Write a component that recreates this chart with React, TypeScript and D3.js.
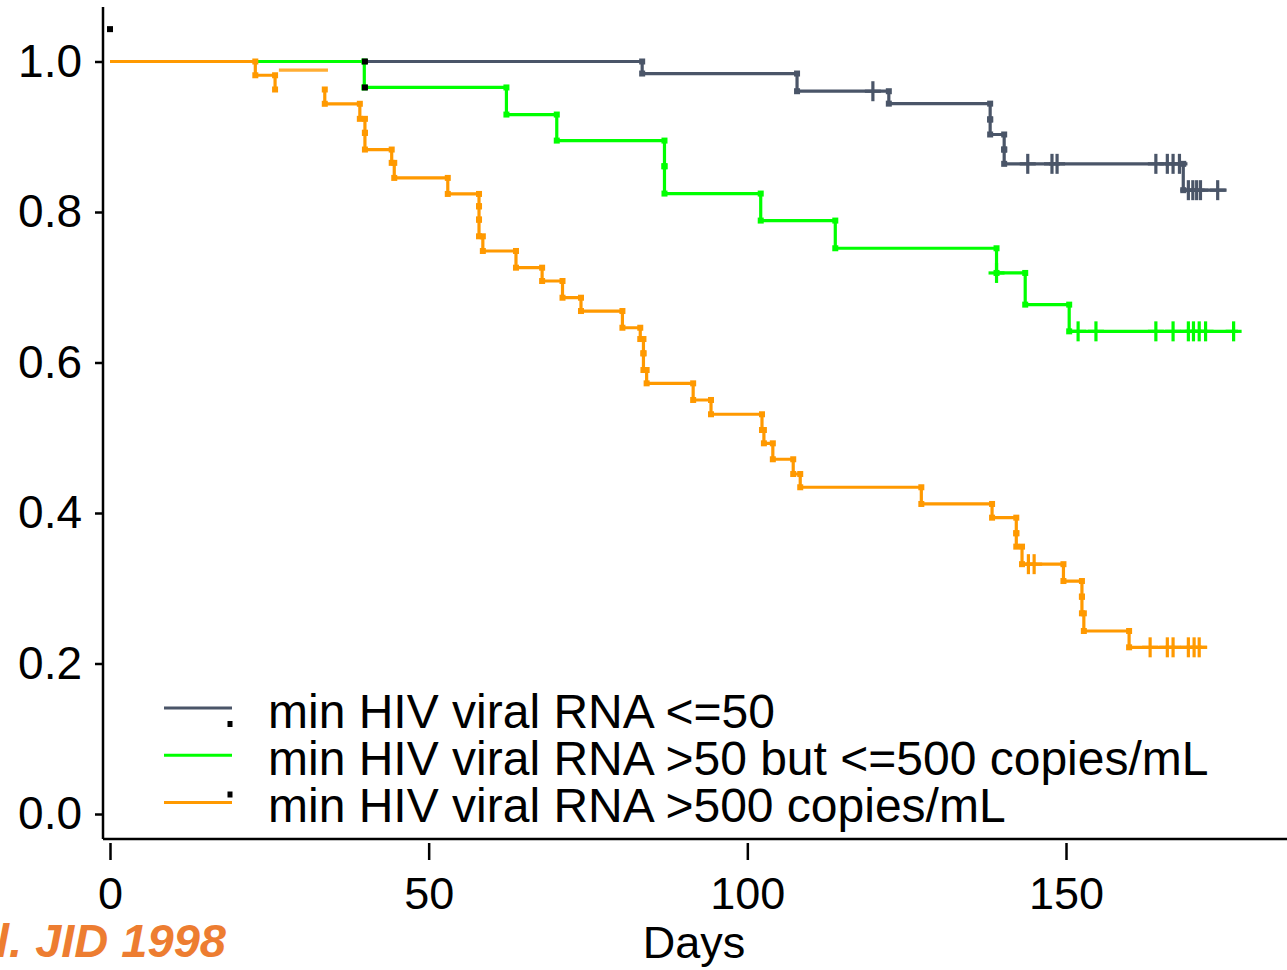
import * as d3 from "d3";
import { useEffect, useRef } from "react";

// Kaplan-Meier style steps: time (days) and survival after the drop
const grayEvents = [
  { t: 83.5, s: 0.984 }, { t: 107.8, s: 0.9605 }, { t: 122.2, s: 0.944 },
  { t: 138.1, s: 0.923 }, { t: 138.1, s: 0.903 }, { t: 140.3, s: 0.883 },
  { t: 140.3, s: 0.864 }, { t: 168.4, s: 0.829 },
];
const grayCensors = [119.7, 144.0, 147.8, 148.6, 164.1, 165.9, 166.8, 167.8, 169.2, 169.9, 170.5, 171.1, 173.8];
const grayEnd = 175.2;

const greenEvents = [
  { t: 39.9, s: 0.9655 }, { t: 62.2, s: 0.9295 }, { t: 70.1, s: 0.8949 },
  { t: 87.0, s: 0.8608 }, { t: 87.0, s: 0.8245 }, { t: 102.1, s: 0.7886 },
  { t: 113.8, s: 0.7518 }, { t: 139.1, s: 0.719 }, { t: 143.6, s: 0.6769 },
  { t: 150.5, s: 0.6414 },
];
const greenCensors = [139.1, 151.9, 154.7, 164.1, 166.8, 169.2, 170.0, 170.9, 171.9, 176.3];
const greenEnd = 177.0;

const orangeEvents = [
  { t: 22.8, s: 0.9817 }, { t: 25.9, s: 0.9628 }, { t: 33.7, s: 0.9438 },
  { t: 39.2, s: 0.9238 }, { t: 40.0, s: 0.9052 }, { t: 40.0, s: 0.883 },
  { t: 44.2, s: 0.8653 }, { t: 44.6, s: 0.8453 }, { t: 53.0, s: 0.824 },
  { t: 57.9, s: 0.8076 }, { t: 57.9, s: 0.7899 }, { t: 57.9, s: 0.7677 },
  { t: 58.5, s: 0.7482 }, { t: 63.7, s: 0.726 }, { t: 67.8, s: 0.7083 },
  { t: 71.0, s: 0.6861 }, { t: 73.9, s: 0.6684 }, { t: 80.4, s: 0.6462 },
  { t: 83.2, s: 0.6312 }, { t: 83.7, s: 0.6122 }, { t: 83.7, s: 0.59 },
  { t: 84.2, s: 0.5723 }, { t: 91.5, s: 0.5502 }, { t: 94.3, s: 0.5312 },
  { t: 102.3, s: 0.5103 }, { t: 102.6, s: 0.4926 }, { t: 104.0, s: 0.4714 },
  { t: 107.2, s: 0.4518 }, { t: 108.3, s: 0.4342 }, { t: 127.3, s: 0.412 },
  { t: 138.4, s: 0.3938 }, { t: 142.2, s: 0.3731 }, { t: 142.2, s: 0.3553 },
  { t: 143.1, s: 0.332 }, { t: 149.6, s: 0.3096 }, { t: 152.5, s: 0.2888 },
  { t: 152.5, s: 0.2667 }, { t: 152.8, s: 0.2432 }, { t: 159.9, s: 0.2215 },
];
const orangeCensors = [144.1, 145.0, 163.2, 165.9, 166.8, 169.2, 170.1, 170.9];
const orangeEnd = 172.1;
// the horizontal piece between these two drops is drawn displaced in the original
const orangeGap = { from: 25.9, to: 33.7 };
const orangeStray = [{ t: 26.5, s: 0.9886 }, { t: 34.2, s: 0.9886 }];

// stray black marks in the source picture
const blackMarks = [{ t: 0, s: 1.043 }, { t: 40, s: 1.0 }, { t: 40, s: 0.9655 }];

const legendLabels = [
  "min HIV viral RNA <=50",
  "min HIV viral RNA >50 but <=500 copies/mL",
  "min HIV viral RNA >500 copies/mL",
];
const colors = ["#4a5568", "#00ff00", "#ff9900"];

const xTicks = [0, 50, 100, 150];
const yTicks = [0, 0.2, 0.4, 0.6, 0.8, 1.0];

const FONT = "'Liberation Sans', Arial, sans-serif";

function stepPoints(events, end, gap?) {
  const pts: any[] = [{ t: 0, s: 1 }];
  let s = 1;
  let lastT = 0;
  events.forEach((e) => {
    if (gap && lastT === gap.from && e.t === gap.to) pts.push({ gap: true });
    pts.push({ t: e.t, s });
    pts.push({ t: e.t, s: e.s });
    s = e.s;
    lastT = e.t;
  });
  pts.push({ t: end, s });
  return pts;
}

function survAt(events, t) {
  let s = 1;
  events.forEach((e) => { if (e.t <= t) s = e.s; });
  return s;
}

export default function App() {
  const width = 1287;
  const height = 970;

  const x = d3.scaleLinear([0, 150], [110, 1066]);
  const y = d3.scaleLinear([0, 1], [814, 61.5]);

  const xAxisRef = useRef(null);
  const yAxisRef = useRef(null);

  const line = d3.line<any>().defined((d) => !d.gap).x((d) => x(d.t)).y((d) => y(d.s));

  useEffect(() => {
    const xAxis = d3.axisBottom(x).tickValues(xTicks).tickSize(17).tickPadding(17).tickFormat(d3.format("d"));
    const yAxis = d3.axisLeft(y).tickValues(yTicks).tickSize(8).tickPadding(13).tickFormat(d3.format(".1f"));

    const gx = d3.select(xAxisRef.current).call(xAxis);
    gx.select(".domain").remove();
    gx.selectAll("line").attr("stroke", "#000").attr("stroke-width", 2.5);
    gx.selectAll("text").attr("font-size", 45).attr("font-family", FONT).attr("fill", "#000");

    const gy = d3.select(yAxisRef.current).call(yAxis);
    gy.select(".domain").remove();
    gy.selectAll("line").attr("stroke", "#000").attr("stroke-width", 2.5);
    gy.selectAll("text").attr("font-size", 46).attr("font-family", FONT).attr("fill", "#000");
  }, []);

  const series = [
    { events: grayEvents, censors: grayCensors, end: grayEnd, color: colors[0], gap: null },
    { events: greenEvents, censors: greenCensors, end: greenEnd, color: colors[1], gap: null },
    { events: orangeEvents, censors: orangeCensors, end: orangeEnd, color: colors[2], gap: orangeGap },
  ];

  const legendTop = 727.5;
  const legendStep = 47.3;

  return (
    <>
      <style>{`body{margin:0}`}</style>
      <svg width={width} height={height} style={{ display: "block", background: "#fff" }}>
        {/* axis lines */}
        <line x1={103} x2={103} y1={7} y2={839} stroke="#000" strokeWidth={2.5} />
        <line x1={103} x2={width} y1={839} y2={839} stroke="#000" strokeWidth={2.5} />
        <g ref={xAxisRef} transform={`translate(0,843)`}></g>
        <g ref={yAxisRef} transform={`translate(103,0)`}></g>

        {series.map((sr, i) => (
          <g key={i} stroke={sr.color} fill={sr.color}>
            <path d={line(stepPoints(sr.events, sr.end, sr.gap))} fill="none" strokeWidth={3.2} />
            {sr.events.map((e, j) => {
              const prev = j === 0 ? 1 : sr.events[j - 1].s;
              return (
                <g key={j} stroke="none">
                  <rect x={x(e.t) - 3} y={y(prev) - 3} width={6} height={6} />
                  <rect x={x(e.t) - 3} y={y(e.s) - 3} width={6} height={6} />
                </g>
              );
            })}
            {sr.censors.map((c, j) => {
              const cx = x(c);
              const cy = y(survAt(sr.events, c));
              return (
                <g key={"c" + j} strokeWidth={3.2} fill="none">
                  <line x1={cx} x2={cx} y1={cy - 10} y2={cy + 10} />
                  <line x1={cx - 8} x2={cx + 8} y1={cy} y2={cy} />
                </g>
              );
            })}
          </g>
        ))}
        <path d={line(orangeStray)} fill="none" stroke={colors[2]} strokeOpacity={0.8} strokeWidth={3.2} />

        {blackMarks.map((m, i) => (
          <rect key={i} x={x(m.t) - 3} y={y(m.s) - 3} width={6} height={6} fill="#000" />
        ))}

        {/* legend */}
        <g fontFamily={FONT} fontSize={48}>
          {legendLabels.map((lab, i) => (
            <g key={i}>
              <line x1={164} x2={232} y1={legendTop + i * legendStep - 19.5} y2={legendTop + i * legendStep - 19.5}
                stroke={colors[i]} strokeWidth={3} />
              <text x={268} y={legendTop + i * legendStep} fill="#000">{lab}</text>
            </g>
          ))}
          <rect x={227.5} y={721} width={5} height={6} fill="#000" />
          <rect x={227.5} y={791.5} width={5} height={6} fill="#000" />
        </g>

        <text x={694} y={958} textAnchor="middle" fontFamily={FONT} fontSize={45} fill="#000">Days</text>
        <text x={-4} y={956.5} fontFamily={FONT} fontSize={47} fontWeight="bold" fontStyle="italic" fill="#ed7d31">l. JID 1998</text>
      </svg>
    </>
  );
}
